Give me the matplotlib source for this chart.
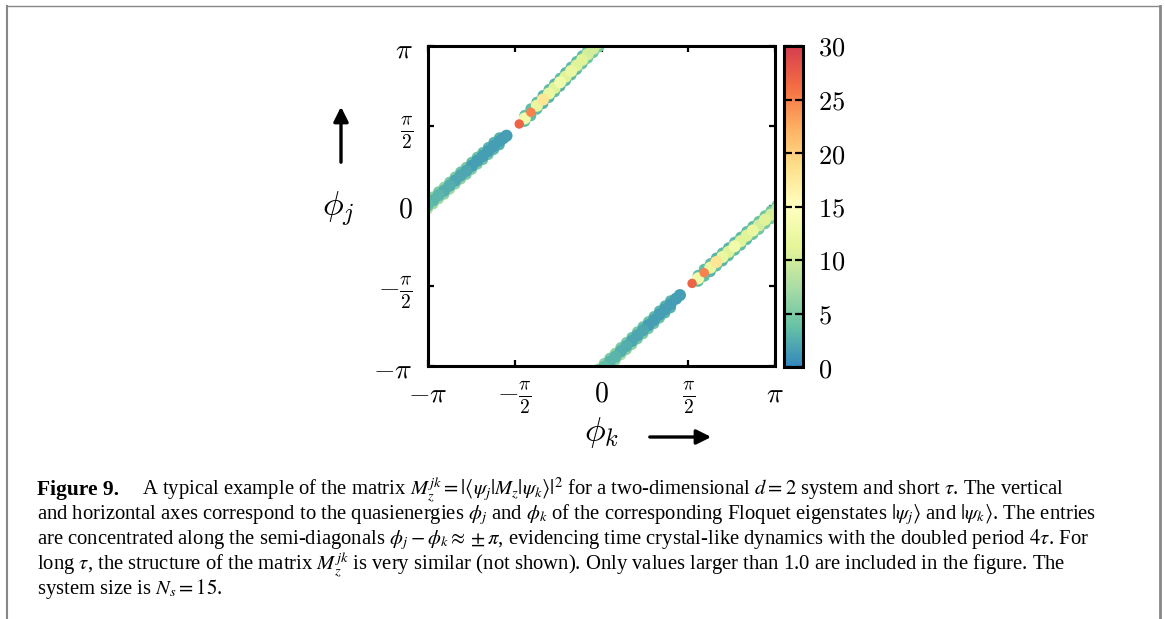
import numpy as np
import matplotlib
matplotlib.use('Agg')
import matplotlib.pyplot as plt
from matplotlib.colors import LinearSegmentedColormap
from matplotlib.lines import Line2D

nan = np.nan

# ---------------- data ----------------
# Band A: lower-left semi-diagonal (phi_j ~ phi_k + pi)
A_phik = [-3.25, -3.15, -3.05, -2.95, -2.85, -2.75, -2.65, -2.55, -2.45, -2.35, -2.25, -2.15, -2.05, -1.95, -1.85, -1.78, -1.72]
A_core_phij = [-0.08, 0.01, 0.11, 0.21, 0.30, 0.40, 0.50, 0.60, 0.69, 0.79, 0.89, 0.98, 1.08, 1.18, 1.27, 1.33, 1.38]
A_upper_phij = [-0.01, 0.08, 0.18, 0.28, 0.37, 0.47, 0.57, 0.67, 0.76, 0.86, 0.96, 1.05, 1.15, 1.25, 1.34, nan, nan]
A_lower_phij = [-0.15, -0.06, 0.04, 0.14, 0.23, 0.33, 0.43, 0.53, 0.62, 0.72, 0.82, 0.91, 1.01, 1.11, 1.20, nan, nan]
A_core_M = [3.5, 3.5, 3.0, 3.0, 2.5, 2.5, 2.0, 2.0, 2.0, 1.5, 1.5, 1.5, 1.5, 1.5, 1.5, 1.5, 1.5]
A_upper_M = [6.0, 7.0, 6.0, 5.0, 6.0, 5.0, 5.0, 4.0, 5.0, 4.0, 4.0, 3.5, 3.0, 3.0, 3.0, nan, nan]
A_lower_M = [8.0, 8.0, 7.0, 7.0, 6.0, 7.0, 6.0, 6.0, 5.0, 5.0, 5.0, 4.0, 4.0, 3.0, 3.0, nan, nan]

# Band B: upper-left semi-diagonal (phi_j ~ phi_k + pi)
B_phik = [-1.49, -1.39, -1.28, -1.17, -1.06, -0.95, -0.85, -0.75, -0.65, -0.55, -0.45, -0.35, -0.25, -0.15, -0.05, 0.05]
B_core_phij = [1.61, 1.72, 1.84, 1.97, 2.09, 2.21, 2.32, 2.43, 2.54, 2.65, 2.76, 2.87, 2.98, 3.09, 3.20, 3.31]
B_upper_phij = [nan, 1.78, 1.91, 2.04, 2.17, 2.29, 2.40, 2.51, 2.62, 2.73, 2.84, 2.95, 3.06, 3.17, 3.28, 3.39]
B_lower_phij = [nan, 1.66, 1.77, 1.90, 2.01, 2.13, 2.24, 2.35, 2.46, 2.57, 2.68, 2.79, 2.90, 3.01, 3.12, 3.23]
B_core_M = [27, 13, 25, 12, 18, 12, 11, 13, 11, 12, 11, 11, 10, 10, 9, 8]
B_upper_M = [nan, 3.5, 3.5, 3.5, 3.0, 3.5, 3.0, 3.5, 3.0, 3.5, 3.5, 3.5, 4.0, 4.5, 4.5, 5.0]
B_lower_M = [nan, 3.5, 3.5, 3.5, 3.0, 3.0, 3.5, 3.0, 3.5, 3.5, 3.5, 4.0, 4.5, 4.5, 5.0, 5.0]

# Band C: lower-right semi-diagonal (phi_j ~ phi_k - pi)
C_phik = [-0.05, 0.05, 0.15, 0.25, 0.35, 0.45, 0.55, 0.65, 0.75, 0.85, 0.95, 1.05, 1.15, 1.25, 1.35, 1.42]
C_core_phij = [-3.27, -3.16, -3.06, -2.96, -2.85, -2.75, -2.65, -2.54, -2.44, -2.34, -2.24, -2.13, -2.03, -1.93, -1.82, -1.75]
C_upper_phij = [-3.20, -3.09, -2.99, -2.89, -2.78, -2.68, -2.58, -2.47, -2.37, -2.27, -2.17, -2.06, -1.96, -1.86, nan, nan]
C_lower_phij = [-3.34, -3.23, -3.13, -3.03, -2.92, -2.82, -2.72, -2.61, -2.51, -2.41, -2.31, -2.20, -2.10, -2.00, nan, nan]
C_core_M = [3.5, 3.5, 3.0, 3.0, 2.5, 2.5, 2.0, 2.0, 2.0, 1.5, 1.5, 1.5, 1.5, 1.5, 1.5, 1.5]
C_upper_M = [6, 6, 5, 6, 5, 5, 4, 5, 4, 4, 3.5, 3, 3, 3, nan, nan]
C_lower_M = [8, 7, 7, 6, 7, 6, 6, 5, 5, 5, 4, 4, 3, 3, nan, nan]

# Band D: upper-right semi-diagonal (phi_j ~ phi_k - pi)
D_phik = [1.64, 1.75, 1.86, 1.97, 2.08, 2.19, 2.30, 2.41, 2.52, 2.63, 2.74, 2.85, 2.96, 3.07, 3.18, 3.28]
D_core_phij = [-1.52, -1.42, -1.31, -1.21, -1.10, -1.00, -0.90, -0.79, -0.69, -0.58, -0.48, -0.38, -0.27, -0.17, -0.06, 0.03]
D_upper_phij = [nan, -1.36, -1.24, -1.13, -1.02, -0.92, -0.82, -0.71, -0.61, -0.50, -0.40, -0.30, -0.19, -0.09, 0.02, 0.11]
D_lower_phij = [nan, -1.48, -1.38, -1.29, -1.18, -1.08, -0.98, -0.87, -0.77, -0.66, -0.56, -0.46, -0.35, -0.25, -0.14, -0.05]
D_core_M = [27, 13, 25, 12, 18, 12, 11, 13, 11, 11, 12, 10, 11, 10, 9, 8]
D_upper_M = [nan, 3.5, 3.5, 3.5, 3.0, 3.5, 3.0, 3.5, 3.5, 3.5, 3.5, 4.0, 4.5, 4.5, 5.0, 5.0]
D_lower_M = [nan, 3.5, 3.5, 3.0, 3.5, 3.0, 3.5, 3.5, 3.5, 3.5, 4.0, 4.5, 4.5, 5.0, 5.0, 5.0]

tick_vals = [-np.pi, -np.pi / 2, 0, np.pi / 2, np.pi]
tick_labels = [r'$-\pi$', r'$-\frac{\pi}{2}$', r'$0$', r'$\frac{\pi}{2}$', r'$\pi$']
cbar_ticks = [0, 5, 10, 15, 20, 25, 30]

caption_lines = [
    r"A typical example of the matrix $M_z^{jk} = |\langle\psi_j|M_z|\psi_k\rangle|^2$ for a two-dimensional $d = 2$ system and short $\tau$. The vertical",
    r"and horizontal axes correspond to the quasienergies $\phi_j$ and $\phi_k$ of the corresponding Floquet eigenstates $|\psi_j\rangle$ and $|\psi_k\rangle$. The entries",
    r"are concentrated along the semi-diagonals $\phi_j - \phi_k \approx \pm\pi$, evidencing time crystal-like dynamics with the doubled period $4\tau$. For",
    r"long $\tau$, the structure of the matrix $M_z^{jk}$ is very similar (not shown). Only values larger than 1.0 are included in the figure. The",
    r"system size is $N_s = 15$.",
]

# ---------------- drawing ----------------
plt.rcParams['mathtext.fontset'] = 'cm'
W, H = 1165, 619
fig = plt.figure(figsize=(W / 100, H / 100), dpi=100)

cmap = LinearSegmentedColormap.from_list(
    'spec', ['#3288bd', '#66c2a5', '#abdda4', '#e6f598', '#ffffbf',
             '#fee08b', '#fdae61', '#f46d43', '#d53e4f'])

ax = fig.add_axes([428 / W, 1 - 366 / H, 347 / W, 320 / H])
cax = fig.add_axes([784 / W, 1 - 367 / H, 19 / W, 321 / H])

bands = [
    (A_phik, [(A_upper_phij, A_upper_M), (A_lower_phij, A_lower_M), (A_core_phij, A_core_M)]),
    (B_phik, [(B_upper_phij, B_upper_M), (B_lower_phij, B_lower_M), (B_core_phij, B_core_M)]),
    (C_phik, [(C_upper_phij, C_upper_M), (C_lower_phij, C_lower_M), (C_core_phij, C_core_M)]),
    (D_phik, [(D_upper_phij, D_upper_M), (D_lower_phij, D_lower_M), (D_core_phij, D_core_M)]),
]
row_sizes = [62, 62, 76]
sc = None
for phik, rows in bands:
    for (phij, mv), size in zip(rows, row_sizes):
        x = np.asarray(phik, float)
        y = np.asarray(phij, float)
        c = np.asarray(mv, float)
        ok = np.isfinite(y) & np.isfinite(c)
        x, y, c = x[ok], y[ok], c[ok]
        order = np.argsort(c, kind='stable')
        x, y, c = x[order], y[order], c[order]
        sizes = np.where(c > 20, 46, size)
        sc = ax.scatter(x, y, c=c, cmap=cmap, vmin=0, vmax=30,
                        s=sizes, linewidths=0, zorder=1)

ax.set_xlim(-np.pi, np.pi)
ax.set_ylim(-np.pi, np.pi)
ax.set_axisbelow(True)
ax.set_xticks(tick_vals)
ax.set_xticklabels(tick_labels)
ax.set_yticks(tick_vals)
ax.set_yticklabels(tick_labels)
ax.tick_params(direction='in', length=4, width=1.6, top=True, right=True,
               labelsize=20, pad=10)
ax.tick_params(axis='y', pad=11)
for s in ax.spines.values():
    s.set_linewidth(2.2)

cb = fig.colorbar(sc, cax=cax, ticks=cbar_ticks)
cb.outline.set_linewidth(2.2)
cax.set_yticklabels([r'$%d$' % t for t in cbar_ticks])
cax.tick_params(direction='in', length=6, width=1.6, left=True, right=True,
                labelsize=19, pad=11)

# axis labels and arrows
fig.text(338 / W, 1 - 209 / H, r'$\phi_j$', fontsize=25, ha='center', va='center')
fig.text(602 / W, 1 - 432 / H, r'$\phi_k$', fontsize=25, ha='center', va='center')
fig.add_artist(matplotlib.patches.FancyArrowPatch(
    (341 / W, 1 - 165 / H), (341 / W, 1 - 104 / H), transform=fig.transFigure,
    arrowstyle='-|>', mutation_scale=22, lw=2.4, color='black'))
fig.add_artist(matplotlib.patches.FancyArrowPatch(
    (647 / W, 1 - 437 / H), (714 / W, 1 - 437 / H), transform=fig.transFigure,
    arrowstyle='-|>', mutation_scale=22, lw=2.4, color='black'))

# caption
fs = 14.9
base_y = [495, 519.5, 544, 569.5, 594]
fig.text(37 / W, 1 - base_y[0] / H, 'Figure 9.', fontsize=fs + 0.6, weight='bold',
         family='Liberation Serif', va='baseline')
for i, line in enumerate(caption_lines):
    x0 = 142 if i == 0 else 37
    fig.text(x0 / W, 1 - base_y[i] / H, line, fontsize=fs, family='Liberation Serif',
             math_fontfamily='stix', va='baseline')

# page border
gray = '#878787'
fig.add_artist(Line2D([6.5 / W, 1159.5 / W], [1 - 5.5 / H, 1 - 5.5 / H],
                      transform=fig.transFigure, color=gray, lw=1.0))
fig.add_artist(Line2D([6.5 / W, 6.5 / W], [0, 1 - 5.5 / H],
                      transform=fig.transFigure, color=gray, lw=1.5))
fig.add_artist(Line2D([1159.5 / W, 1159.5 / W], [0, 1 - 5.5 / H],
                      transform=fig.transFigure, color=gray, lw=2.0))

fig.savefig('out.png', dpi=100)
